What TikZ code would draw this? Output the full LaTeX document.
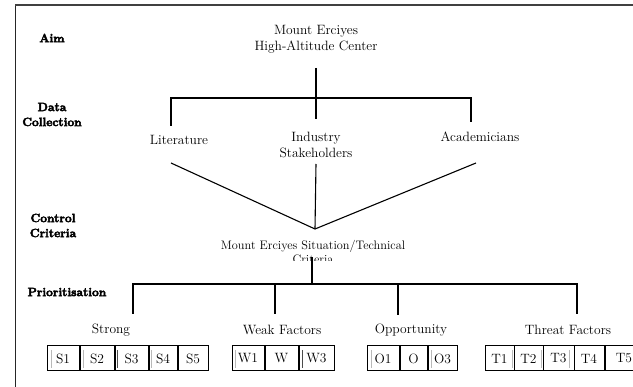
\documentclass[tikz,border=0pt]{standalone}
% heavier stroke for the stage labels (fill + outline text rendering)
\newcommand\heavytext[1]{\special{pdf:literal 2 Tr 0.45 w}#1\special{pdf:literal 0 Tr 0.4 w}}
\begin{document}
\begin{tikzpicture}[x=1pt,y=-1pt,
  txt/.style={inner sep=0pt, align=center, font=\fontsize{13.5}{15.5}\selectfont},
  small/.style={inner sep=0pt, align=center, font=\fontsize{12.3}{14}\selectfont},
  stage/.style={inner sep=0pt, align=center, font=\fontsize{12}{15}\selectfont\bfseries},
  link/.style={line width=1.1pt, black},
  cell/.style={draw, line width=1pt, minimum height=25pt, inner sep=0pt, font=\fontsize{13.5}{15}\selectfont},
  tick/.style={line width=0.9pt, gray!55}]
\useasboundingbox (0,0) rectangle (633,387);
\fill[white] (0,0) rectangle (633,387);

% outer frame (left and top edges)
\draw[line width=1pt, black!85] (15,387) -- (15,5);
\draw[line width=1.8pt, black!75] (15,5) -- (633,5);

% stage labels
\node[stage] (aim) at (52,38) {\heavytext{Aim}};
\node[stage] (data) at (52,114.5) {\heavytext{Data}\\\heavytext{Collection}};
\node[stage] (ctrl) at (53,225.5) {\heavytext{Control}\\\heavytext{Criteria}};
\node[stage] (prio) at (67,292) {\heavytext{Prioritisation}};

% aim
\node[txt] (mec) at (316,39.5) {Mount Erciyes\\High-Altitude Center};

% data sources
\node[txt] (lit) at (179,140) {Literature};
\node[txt] (ind) at (316,145) {Industry\\Stakeholders};
\node[txt] (aca) at (480,137) {Academicians};

% control criteria (second line cut off below)
\begin{scope}
  \clip (150,230) rectangle (480,261);
  \node[small] (crit) at (313,252) {Mount Erciyes Situation/Technical\\Criteria};
\end{scope}

% aim -> data sources
\coordinate (mecLow) at (316,68);
\coordinate (mecEnd) at (316,119);
\coordinate (barL) at (171,98);
\coordinate (barR) at (471,98);
\coordinate (litUp) at (171,126);
\coordinate (acaUp) at (471,122);
\draw[link] (mecLow) -- (mecEnd);
\draw[link] (litUp) -- (barL) -- (barR) -- (acaUp);

% data sources -> criteria
\coordinate (litLow) at (171,163);
\coordinate (indLow) at (316,164);
\coordinate (acaLow) at (476,163);
\coordinate (meet) at (315,229);
\draw[link] (litLow) -- (meet) -- (acaLow);
\draw[link] (indLow) -- (meet);

% criteria -> factor groups
\coordinate (critLow) at (312,257);
\coordinate (critBar) at (312,284);
\coordinate (pL) at (133,284);
\coordinate (pR) at (577,284);
\coordinate (pW) at (275,284);
\coordinate (pO) at (398,284);
\coordinate (sEnd) at (133,314);
\coordinate (wEnd) at (275,314);
\coordinate (oEnd) at (398,315);
\coordinate (tEnd) at (577,314);
\draw[link] (critLow) -- (critBar);
\draw[link] (sEnd) -- (pL) -- (pR) -- (tEnd);
\draw[link] (pW) -- (wEnd);
\draw[link] (pO) -- (oEnd);

% factor group titles
\node[txt] (strong) at (111,330) {Strong};
\node[txt] (weak) at (282,330) {Weak Factors};
\node[txt] (opp) at (411,330) {Opportunity};
\node[txt] (thr) at (568,330) {Threat Factors};

% factor cells
\node[cell, minimum width=32pt] (s1) at (63,358.5) {S1};
\node[cell, minimum width=34pt] (s2) at (97,358.5) {S2};
\node[cell, minimum width=33pt] (s3) at (131.5,358.5) {S3};
\node[cell, minimum width=28pt] (s4) at (163,358.5) {S4};
\node[cell, minimum width=30pt] (s5) at (193,358.5) {S5};

\node[cell, minimum width=32pt] (w1) at (248,358.5) {W1};
\node[cell, minimum width=33pt] (w2) at (281.5,358.5) {W};
\node[cell, minimum width=35pt] (w3) at (316.5,358.5) {W3};

\node[cell, minimum width=32pt] (o1) at (383,358.5) {O1};
\node[cell, minimum width=27pt] (o2) at (413.5,358.5) {O};
\node[cell, minimum width=29pt] (o3) at (442.5,358.5) {O3};

\node[cell, minimum width=29pt] (t1) at (499.5,358.5) {T1};
\node[cell, minimum width=29pt] (t2) at (528.5,358.5) {T2};
\node[cell, minimum width=31pt] (t3) at (558.5,358.5) {T3};
\node[cell, minimum width=30pt] (t4) at (589,358.5) {T4};
\node[cell, minimum width=38pt] (t5) at (624,358.5) {T5};

% faint inner strokes inside some cells
\foreach \x in {51,83,151,235,371,431,512,541,569}
  \draw[tick] (\x,350) -- (\x,368);
\foreach \x in {117,302}
  \draw[line width=1pt, black!70] (\x,350) -- (\x,368);
\end{tikzpicture}
\end{document}
